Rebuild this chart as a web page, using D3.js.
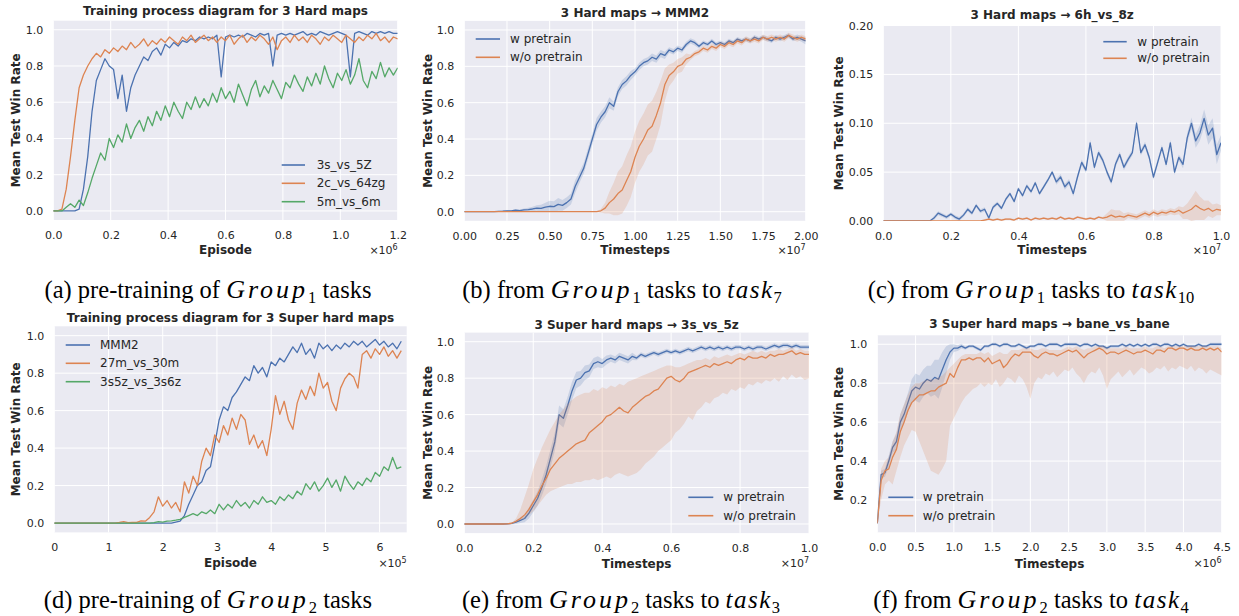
<!DOCTYPE html>
<html>
<head>
<meta charset="utf-8">
<script src="https://cdn.jsdelivr.net/npm/d3@7"></script>
<style>
  body { margin: 0; background: #fff; }
  svg { display: block; font-family: "DejaVu Sans", sans-serif; }
  .tick text { font-size: 11px; fill: #262626; font-family: "DejaVu Sans", sans-serif; }
  .title { font-size: 12px; font-weight: bold; fill: #262626; }
  .axis-label { font-size: 12px; font-weight: bold; fill: #262626; }
  .expo { font-size: 11px; fill: #262626; }
  .legend text { font-size: 12px; fill: #262626; }
  .caption { font-family: "Liberation Serif", "Times New Roman", serif; font-size: 24.5px; fill: #000; }
</style>
</head>
<body>
<svg id="fig" width="1239" height="616"></svg>
<script>
// 1: DATA

// (a) pre-training, Group1 – episode step 0.015 (x1e6)
const stepA = 0.015;
const a3s5z = [0,0,0,0,0,0,0.01,0.12,0.3,0.55,0.72,0.78,0.84,0.8,0.78,0.62,0.75,0.55,0.68,0.75,0.8,0.85,0.83,0.88,0.9,0.86,0.92,0.9,0.93,0.91,0.94,0.93,0.95,0.94,0.96,0.95,0.96,0.95,0.97,0.74,0.96,0.97,0.96,0.97,0.96,0.98,0.97,0.96,0.98,0.97,0.98,0.8,0.97,0.98,0.97,0.98,0.97,0.98,0.99,0.97,0.98,0.97,0.99,0.98,0.97,0.98,0.99,0.98,0.97,0.74,0.98,0.99,0.98,0.97,0.99,0.98,0.99,0.98,0.99,0.98,0.98];
const a2c64zg = [0,0,0.01,0.12,0.3,0.5,0.68,0.75,0.8,0.84,0.87,0.85,0.89,0.87,0.9,0.88,0.91,0.89,0.93,0.9,0.92,0.95,0.91,0.94,0.92,0.95,0.93,0.96,0.94,0.92,0.96,0.94,0.97,0.93,0.95,0.97,0.94,0.96,0.93,0.96,0.94,0.97,0.92,0.95,0.97,0.93,0.96,0.94,0.97,0.95,0.92,0.96,0.89,0.94,0.96,0.93,0.97,0.94,0.96,0.93,0.97,0.95,0.92,0.96,0.94,0.97,0.95,0.93,0.97,0.95,0.93,0.96,0.94,0.97,0.95,0.98,0.94,0.96,0.93,0.96,0.95];
const a5m6m = [0,0,0,0.02,0.04,0.02,0.06,0.03,0.1,0.18,0.25,0.32,0.28,0.4,0.35,0.42,0.38,0.48,0.4,0.46,0.5,0.44,0.52,0.47,0.55,0.5,0.58,0.52,0.6,0.55,0.51,0.6,0.56,0.63,0.57,0.62,0.58,0.65,0.6,0.68,0.62,0.66,0.6,0.7,0.64,0.58,0.67,0.72,0.63,0.69,0.65,0.72,0.67,0.62,0.71,0.68,0.75,0.7,0.66,0.74,0.69,0.76,0.7,0.8,0.73,0.68,0.76,0.72,0.78,0.7,0.75,0.84,0.72,0.68,0.77,0.73,0.82,0.74,0.79,0.75,0.79];

// (b) Group1 -> MMM2 – timestep step 0.025 (x1e7)
const stepB = 0.025;
const bWithMean = [0,0,0,0,0,0,0,0,0.002,0.003,0.005,0.004,0.008,0.006,0.01,0.012,0.015,0.02,0.018,0.025,0.03,0.028,0.04,0.035,0.05,0.07,0.14,0.19,0.24,0.32,0.4,0.48,0.52,0.55,0.6,0.58,0.66,0.7,0.72,0.75,0.77,0.8,0.82,0.83,0.85,0.84,0.87,0.86,0.89,0.88,0.9,0.89,0.92,0.94,0.93,0.91,0.93,0.92,0.94,0.92,0.93,0.92,0.94,0.93,0.95,0.94,0.95,0.94,0.96,0.95,0.96,0.95,0.94,0.96,0.95,0.96,0.97,0.95,0.96,0.95,0.94];
const bWithSpread = [0,0,0,0,0,0,0,0,0.003,0.003,0.004,0.004,0.005,0.006,0.008,0.01,0.012,0.015,0.02,0.025,0.03,0.03,0.035,0.03,0.03,0.03,0.035,0.03,0.03,0.03,0.03,0.035,0.03,0.03,0.03,0.025,0.025,0.025,0.025,0.025,0.02,0.02,0.02,0.02,0.02,0.02,0.02,0.02,0.015,0.015,0.015,0.015,0.015,0.015,0.015,0.012,0.012,0.012,0.012,0.012,0.012,0.012,0.012,0.012,0.012,0.012,0.012,0.012,0.012,0.012,0.012,0.012,0.012,0.012,0.012,0.012,0.012,0.012,0.015,0.015,0.02];
const bWithoutMean = [0,0,0,0,0,0,0,0,0,0,0,0,0,0,0,0,0,0,0,0,0,0,0,0,0,0,0,0,0,0,0,0,0.005,0.02,0.05,0.07,0.1,0.12,0.17,0.22,0.3,0.36,0.4,0.45,0.47,0.53,0.6,0.7,0.75,0.77,0.8,0.81,0.84,0.85,0.87,0.88,0.9,0.89,0.91,0.9,0.92,0.91,0.93,0.92,0.94,0.93,0.95,0.94,0.95,0.94,0.96,0.95,0.96,0.95,0.96,0.95,0.97,0.96,0.95,0.96,0.95];
const bWithoutSpread = [0,0,0,0,0,0,0,0,0,0,0,0,0,0,0,0,0,0,0,0,0,0,0,0,0,0,0,0,0,0,0,0,0.01,0.03,0.06,0.09,0.12,0.13,0.14,0.14,0.14,0.14,0.14,0.14,0.14,0.13,0.12,0.09,0.06,0.05,0.04,0.04,0.03,0.015,0.015,0.015,0.015,0.015,0.015,0.015,0.015,0.015,0.015,0.015,0.015,0.015,0.015,0.015,0.015,0.015,0.015,0.015,0.015,0.015,0.015,0.015,0.015,0.015,0.015,0.015,0.015];

// (c) Group1 -> 6h_vs_8z – timestep step 0.0125 (x1e7)
const stepC = 0.0125;
const cWithMean = [0,0,0,0,0,0,0,0,0,0,0,0,0.003,0.008,0.006,0.004,0.007,0.004,0.002,0.006,0.012,0.008,0.016,0.01,0.012,0.003,0.014,0.018,0.013,0.022,0.028,0.02,0.033,0.026,0.036,0.03,0.039,0.028,0.035,0.042,0.05,0.04,0.045,0.035,0.04,0.028,0.045,0.06,0.052,0.08,0.055,0.07,0.062,0.05,0.04,0.058,0.068,0.055,0.063,0.07,0.1,0.07,0.078,0.065,0.045,0.06,0.075,0.058,0.08,0.05,0.065,0.058,0.085,0.1,0.082,0.09,0.105,0.088,0.095,0.068,0.08];
const cWithSpread = [0,0,0,0,0,0,0,0,0,0,0,0,0.002,0.002,0.002,0.002,0.002,0.002,0.002,0.002,0.002,0.002,0.002,0.002,0.002,0.002,0.002,0.002,0.002,0.002,0.002,0.002,0.002,0.002,0.002,0.002,0.002,0.002,0.002,0.002,0.002,0.003,0.003,0.003,0.003,0.003,0.003,0.003,0.003,0.003,0.003,0.003,0.003,0.003,0.003,0.003,0.003,0.003,0.003,0.003,0.003,0.003,0.003,0.003,0.003,0.003,0.003,0.003,0.003,0.003,0.003,0.004,0.005,0.006,0.007,0.008,0.009,0.01,0.01,0.01,0.008];
const cWithoutMean = [0,0,0,0,0,0,0,0,0,0,0,0,0,0,0,0,0,0,0,0,0,0,0,0,0.001,0.002,0.001,0.002,0.001,0.002,0.002,0.001,0.003,0.002,0.003,0.001,0.003,0.002,0.003,0.002,0.003,0.002,0.004,0.002,0.003,0.002,0.004,0.003,0.002,0.003,0.002,0.004,0.003,0.004,0.006,0.004,0.005,0.004,0.006,0.005,0.004,0.006,0.008,0.006,0.009,0.007,0.009,0.008,0.01,0.009,0.011,0.008,0.01,0.012,0.016,0.013,0.011,0.013,0.01,0.012,0.011];
const cWithoutSpread = [0,0,0,0,0,0,0,0,0,0,0,0,0,0,0,0,0,0,0,0,0,0,0,0,0.001,0.001,0.001,0.001,0.001,0.001,0.001,0.001,0.001,0.001,0.001,0.001,0.001,0.001,0.001,0.001,0.001,0.001,0.001,0.001,0.001,0.001,0.001,0.001,0.001,0.001,0.001,0.001,0.001,0.004,0.006,0.007,0.006,0.004,0.003,0.003,0.003,0.003,0.003,0.003,0.003,0.003,0.003,0.003,0.003,0.003,0.004,0.006,0.008,0.012,0.015,0.012,0.01,0.008,0.007,0.006,0.005];

// (d) pre-training, Group2 – episode step 0.08 (x1e5)
const stepD = 0.08;
const dMMM2 = [0,0,0,0,0,0,0,0,0,0,0,0,0,0,0,0,0,0,0,0,0,0,0,0,0,0,0,0,0.005,0.01,0.04,0.1,0.15,0.2,0.22,0.28,0.3,0.42,0.55,0.62,0.6,0.67,0.7,0.74,0.78,0.76,0.84,0.8,0.83,0.78,0.86,0.84,0.88,0.86,0.9,0.94,0.91,0.96,0.9,0.93,0.88,0.96,0.93,0.95,0.92,0.95,0.93,0.96,0.94,0.97,0.95,0.97,0.94,0.96,0.98,0.95,0.97,0.94,0.96,0.93,0.97];
const d27m30m = [0,0,0,0,0,0,0,0,0,0,0,0,0,0,0,0.003,0.008,0.002,0.004,0.003,0.012,0.01,0.03,0.06,0.14,0.09,0.12,0.08,0.11,0.06,0.22,0.16,0.25,0.2,0.33,0.4,0.36,0.47,0.43,0.52,0.47,0.56,0.5,0.58,0.55,0.42,0.47,0.4,0.44,0.36,0.5,0.68,0.58,0.65,0.55,0.5,0.64,0.71,0.66,0.73,0.68,0.8,0.72,0.75,0.65,0.6,0.72,0.77,0.8,0.78,0.72,0.9,0.92,0.88,0.93,0.9,0.94,0.89,0.92,0.88,0.92];
const d3s5z3s6z = [0,0,0,0,0,0,0,0,0,0,0,0,0,0,0,0,0,0,0,0,0,0,0,0.002,0.008,0.005,0.01,0.012,0.015,0.02,0.03,0.04,0.05,0.04,0.06,0.05,0.07,0.05,0.1,0.07,0.1,0.08,0.12,0.09,0.11,0.08,0.12,0.1,0.14,0.11,0.12,0.1,0.14,0.12,0.15,0.13,0.17,0.15,0.21,0.18,0.22,0.17,0.2,0.24,0.19,0.23,0.17,0.25,0.21,0.18,0.22,0.2,0.24,0.22,0.27,0.25,0.3,0.28,0.35,0.29,0.3];

// (e) Group2 -> 3s_vs_5z – timestep step 0.0125 (x1e7)
const stepE = 0.0125;
const eWithMean = [0,0,0,0,0,0,0,0,0,0,0.001,0.003,0.01,0.02,0.03,0.06,0.1,0.14,0.2,0.27,0.36,0.45,0.6,0.58,0.65,0.73,0.79,0.8,0.83,0.84,0.88,0.89,0.88,0.9,0.91,0.9,0.92,0.91,0.9,0.92,0.91,0.93,0.92,0.93,0.94,0.93,0.94,0.95,0.94,0.95,0.94,0.95,0.96,0.95,0.96,0.97,0.96,0.97,0.96,0.97,0.96,0.97,0.96,0.97,0.97,0.96,0.97,0.96,0.97,0.97,0.96,0.97,0.98,0.97,0.98,0.98,0.97,0.98,0.97,0.97,0.97];
const eWithSpread = [0,0,0,0,0,0,0,0,0,0,0.002,0.004,0.01,0.015,0.02,0.03,0.035,0.04,0.045,0.05,0.05,0.05,0.05,0.05,0.05,0.05,0.045,0.04,0.04,0.035,0.03,0.03,0.025,0.025,0.02,0.02,0.02,0.02,0.02,0.02,0.012,0.012,0.012,0.012,0.012,0.012,0.012,0.012,0.012,0.012,0.012,0.012,0.012,0.012,0.012,0.012,0.012,0.012,0.012,0.012,0.012,0.012,0.012,0.012,0.012,0.012,0.012,0.012,0.012,0.012,0.012,0.012,0.012,0.012,0.012,0.012,0.012,0.012,0.012,0.012,0.012];
const eWithoutMean = [0,0,0,0,0,0,0,0,0,0,0.001,0.004,0.015,0.03,0.05,0.08,0.12,0.16,0.21,0.25,0.3,0.33,0.36,0.38,0.4,0.42,0.44,0.45,0.46,0.5,0.52,0.54,0.56,0.59,0.6,0.62,0.64,0.62,0.61,0.64,0.66,0.68,0.7,0.71,0.73,0.74,0.77,0.8,0.81,0.79,0.78,0.8,0.83,0.84,0.85,0.86,0.87,0.86,0.88,0.87,0.88,0.89,0.88,0.9,0.91,0.9,0.92,0.91,0.91,0.92,0.91,0.93,0.92,0.93,0.93,0.94,0.95,0.93,0.94,0.93,0.93];
const eWithoutLow = [0,0,0,0,0,0,0,0,0,0,0.001,0.003,0.008,0.02,0.03,0.05,0.07,0.1,0.13,0.16,0.18,0.19,0.2,0.21,0.22,0.22,0.23,0.23,0.24,0.24,0.25,0.24,0.25,0.26,0.25,0.27,0.28,0.27,0.26,0.27,0.28,0.3,0.33,0.35,0.37,0.4,0.42,0.44,0.46,0.5,0.52,0.55,0.59,0.57,0.62,0.64,0.67,0.66,0.69,0.7,0.72,0.71,0.74,0.73,0.75,0.74,0.77,0.76,0.78,0.77,0.79,0.78,0.8,0.78,0.81,0.79,0.82,0.8,0.81,0.79,0.8];
const eWithoutHigh = [0,0,0,0,0,0,0,0,0,0,0.002,0.006,0.03,0.08,0.15,0.22,0.3,0.36,0.42,0.47,0.52,0.56,0.6,0.63,0.66,0.68,0.7,0.71,0.72,0.72,0.74,0.73,0.75,0.74,0.76,0.75,0.77,0.76,0.78,0.79,0.8,0.81,0.82,0.83,0.84,0.85,0.86,0.87,0.87,0.86,0.86,0.87,0.88,0.89,0.9,0.9,0.91,0.9,0.92,0.91,0.92,0.93,0.92,0.93,0.94,0.93,0.94,0.95,0.94,0.95,0.94,0.95,0.95,0.96,0.95,0.96,0.97,0.95,0.96,0.95,0.95];

// (f) Group2 -> bane_vs_bane – timestep step 0.05 (x1e6)
const stepF = 0.05;
const fWithMean = [0.08,0.33,0.34,0.4,0.47,0.5,0.6,0.64,0.7,0.76,0.78,0.77,0.8,0.82,0.81,0.83,0.82,0.87,0.92,0.96,0.98,0.98,0.99,0.98,0.99,0.99,0.98,0.97,0.99,0.99,1.0,1.0,0.99,1.0,1.0,0.99,0.99,1.0,0.99,0.98,0.99,0.99,1.0,1.0,0.99,1.0,1.0,1.0,0.99,1.0,1.0,1.0,1.0,0.99,1.0,1.0,0.99,1.0,0.99,0.99,0.98,0.99,0.99,0.99,1.0,0.99,1.0,0.99,1.0,0.99,1.0,0.99,1.0,1.0,0.99,1.0,1.0,0.99,1.0,0.99,1.0,0.99,0.99,0.99,1.0,0.99,0.99,1.0,1.0,1.0,1.0];
const fWithSpread = [0.01,0.02,0.02,0.03,0.03,0.04,0.04,0.05,0.05,0.06,0.07,0.07,0.07,0.07,0.08,0.09,0.1,0.09,0.07,0.04,0.02,0.015,0.012,0.008,0.008,0.008,0.008,0.008,0.008,0.008,0.008,0.008,0.008,0.008,0.008,0.008,0.008,0.008,0.008,0.008,0.008,0.008,0.008,0.008,0.008,0.008,0.008,0.008,0.008,0.008,0.008,0.008,0.008,0.008,0.008,0.008,0.008,0.008,0.008,0.008,0.008,0.008,0.008,0.008,0.008,0.008,0.008,0.008,0.008,0.008,0.008,0.008,0.008,0.008,0.008,0.008,0.008,0.008,0.008,0.008,0.008,0.008,0.008,0.008,0.008,0.008,0.008,0.008,0.008,0.008,0.008];
const fWithoutMean = [0.08,0.3,0.35,0.36,0.42,0.46,0.55,0.6,0.66,0.7,0.72,0.74,0.74,0.75,0.76,0.76,0.78,0.79,0.8,0.85,0.83,0.88,0.92,0.92,0.93,0.92,0.93,0.93,0.91,0.93,0.9,0.91,0.92,0.88,0.9,0.93,0.95,0.94,0.96,0.96,0.96,0.94,0.93,0.95,0.96,0.95,0.95,0.94,0.95,0.96,0.97,0.96,0.97,0.95,0.93,0.95,0.96,0.97,0.98,0.97,0.95,0.96,0.96,0.95,0.96,0.97,0.96,0.95,0.96,0.96,0.97,0.96,0.95,0.97,0.97,0.96,0.98,0.98,0.97,0.98,0.98,0.97,0.98,0.97,0.97,0.98,0.97,0.98,0.97,0.98,0.96];
const fWithoutLow = [0.08,0.2,0.28,0.3,0.28,0.35,0.42,0.48,0.52,0.56,0.55,0.5,0.45,0.4,0.35,0.34,0.33,0.36,0.4,0.58,0.62,0.66,0.7,0.73,0.75,0.77,0.78,0.8,0.78,0.8,0.79,0.82,0.78,0.8,0.83,0.82,0.8,0.84,0.82,0.78,0.72,0.8,0.83,0.82,0.85,0.84,0.86,0.83,0.85,0.87,0.86,0.88,0.85,0.83,0.8,0.84,0.86,0.85,0.88,0.84,0.77,0.82,0.84,0.86,0.83,0.85,0.87,0.84,0.86,0.88,0.87,0.85,0.86,0.88,0.87,0.89,0.86,0.88,0.87,0.89,0.88,0.87,0.89,0.86,0.88,0.87,0.85,0.87,0.86,0.85,0.84];
const fWithoutHigh = [0.08,0.36,0.4,0.42,0.5,0.55,0.64,0.69,0.74,0.78,0.8,0.8,0.81,0.82,0.82,0.82,0.83,0.84,0.86,0.88,0.9,0.92,0.94,0.95,0.95,0.95,0.95,0.96,0.95,0.96,0.94,0.95,0.96,0.95,0.95,0.97,0.97,0.97,0.98,0.98,0.98,0.97,0.97,0.98,0.98,0.97,0.97,0.97,0.97,0.98,0.99,0.98,0.99,0.98,0.97,0.98,0.98,0.99,0.99,0.99,0.98,0.98,0.98,0.98,0.98,0.99,0.98,0.98,0.98,0.98,0.99,0.98,0.98,0.99,0.99,0.98,0.99,0.99,0.99,0.99,0.99,0.99,0.99,0.99,0.99,0.99,0.99,0.99,0.99,0.99,0.98];

// tick values
const winTicks = [0, 0.2, 0.4, 0.6, 0.8, 1.0];
const winTicksC = [0, 0.05, 0.1, 0.15, 0.2];
const winTicksF = [0.2, 0.4, 0.6, 0.8, 1.0];
const ticksA = [0, 0.2, 0.4, 0.6, 0.8, 1.0, 1.2];
const ticksB = [0, 0.25, 0.5, 0.75, 1.0, 1.25, 1.5, 1.75, 2.0];
const ticksCE = [0, 0.2, 0.4, 0.6, 0.8, 1.0];
const ticksD = [0, 1, 2, 3, 4, 5, 6];
const ticksF = [0, 0.5, 1.0, 1.5, 2.0, 2.5, 3.0, 3.5, 4.0, 4.5];

// legend labels
const mapsG1 = ["3s_vs_5Z", "2c_vs_64zg", "5m_vs_6m"];
const mapsG2 = ["MMM2", "27m_vs_30m", "3s5z_vs_3s6z"];
const pretrainLabels = ["w pretrain", "w/o pretrain"];

// captions: [text, style]
const captionA = [["(a) pre-training of ", ""], ["Group", "it"], ["1", "sub"], [" tasks", ""]];
const captionB = [["(b) from ", ""], ["Group", "it"], ["1", "sub"], [" tasks to ", ""], ["task", "it2"], ["7", "sub"]];
const captionC = [["(c) from ", ""], ["Group", "it"], ["1", "sub"], [" tasks to ", ""], ["task", "it2"], ["10", "sub"]];
const captionD = [["(d) pre-training of ", ""], ["Group", "it"], ["2", "sub"], [" tasks", ""]];
const captionE = [["(e) from ", ""], ["Group", "it"], ["2", "sub"], [" tasks to ", ""], ["task", "it2"], ["3", "sub"]];
const captionF = [["(f) from ", ""], ["Group", "it"], ["2", "sub"], [" tasks to ", ""], ["task", "it2"], ["4", "sub"]];

// 2: STYLE
const BLUE = "#4C72B0", ORANGE = "#DD8452", GREEN = "#55A868";
const svg = d3.select("#fig");

// 3: PANEL DRAWER
function drawPanel(p) {
  const g = svg.append("g");
  const x = d3.scaleLinear().domain(p.xDomain).range([p.left, p.right]);
  const y = d3.scaleLinear().domain(p.yDomain).range([p.bottom, p.top]);

  g.append("rect")
    .attr("x", p.left).attr("y", p.top)
    .attr("width", p.right - p.left).attr("height", p.bottom - p.top)
    .attr("fill", "#EAEAF2");

  // white grid
  g.append("g").selectAll("line").data(p.xTicks).join("line")
    .attr("x1", d => x(d)).attr("x2", d => x(d))
    .attr("y1", p.top).attr("y2", p.bottom)
    .attr("stroke", "#fff").attr("stroke-width", 1);
  g.append("g").selectAll("line").data(p.yTicks).join("line")
    .attr("x1", p.left).attr("x2", p.right)
    .attr("y1", d => y(d)).attr("y2", d => y(d))
    .attr("stroke", "#fff").attr("stroke-width", 1);

  const clipId = "clip-" + p.id;
  g.append("clipPath").attr("id", clipId).append("rect")
    .attr("x", p.left).attr("y", p.top)
    .attr("width", p.right - p.left).attr("height", p.bottom - p.top);
  const plot = g.append("g").attr("clip-path", `url(#${clipId})`);

  p.series.forEach(s => {
    const pts = s.mean.map((v, i) => ({
      x: i * p.step,
      m: v,
      lo: s.low ? s.low[i] : (s.spread ? v - s.spread[i] : v),
      hi: s.high ? s.high[i] : (s.spread ? v + s.spread[i] : v)
    }));
    if (s.spread || s.low) {
      plot.append("path").datum(pts)
        .attr("fill", s.color).attr("fill-opacity", 0.2)
        .attr("d", d3.area().x(d => x(d.x)).y0(d => y(d.lo)).y1(d => y(d.hi)));
    }
    plot.append("path").datum(pts)
      .attr("fill", "none").attr("stroke", s.color).attr("stroke-width", 1.3)
      .attr("stroke-linejoin", "round")
      .attr("d", d3.line().x(d => x(d.x)).y(d => y(d.m)));
  });

  // axes
  const xa = g.append("g").attr("transform", `translate(0,${p.bottom})`)
    .call(d3.axisBottom(x).tickValues(p.xTicks).tickFormat(d3.format(p.xFmt)).tickSize(0).tickPadding(11));
  xa.select(".domain").remove();
  const ya = g.append("g").attr("transform", `translate(${p.left},0)`)
    .call(d3.axisLeft(y).tickValues(p.yTicks).tickFormat(d3.format(p.yFmt)).tickSize(0).tickPadding(10));
  ya.select(".domain").remove();

  // labels
  const cx = (p.left + p.right) / 2;
  g.append("text").attr("class", "title").attr("x", cx).attr("y", p.titleY)
    .attr("text-anchor", "middle").text(p.title);
  g.append("text").attr("class", "axis-label").attr("x", cx).attr("y", p.xLabelY)
    .attr("text-anchor", "middle").text(p.xLabel);
  g.append("text").attr("class", "axis-label")
    .attr("transform", `translate(${p.yLabelX},${(p.top + p.bottom) / 2}) rotate(-90)`)
    .attr("text-anchor", "middle").text("Mean Test Win Rate");
  const ex = g.append("text").attr("class", "expo").attr("x", p.right).attr("y", p.expoY)
    .attr("text-anchor", "end");
  ex.append("tspan").text("\u00d710");
  ex.append("tspan").attr("dy", -4).attr("font-size", "8px").text(p.expo);

  // legend
  const lg = g.append("g").attr("class", "legend");
  p.series.forEach((s, i) => {
    const ly = p.legend.y[i];
    lg.append("line").attr("x1", p.legend.x1).attr("x2", p.legend.x2)
      .attr("y1", ly).attr("y2", ly).attr("stroke", s.color).attr("stroke-width", 1.6);
    lg.append("text").attr("x", p.legend.tx).attr("y", ly + 4).text(s.label);
  });

  // caption (math parts in italic, a bit wider like LaTeX math)
  const cap = g.append("text").attr("class", "caption").attr("x", p.capX).attr("y", p.capY)
    .attr("text-anchor", "middle");
  let shifted = false;
  p.caption.forEach(([t, st]) => {
    const ts = cap.append("tspan").text(t);
    if (st === "it") ts.attr("font-style", "italic").attr("font-size", "26px").attr("letter-spacing", "3px");
    if (st === "it2") ts.attr("font-style", "italic").attr("font-size", "25px").attr("letter-spacing", "1.5px");
    if (st === "sub") { ts.attr("font-size", "16.5px").attr("dy", 4.5); shifted = true; }
    else if (shifted) { ts.attr("dy", -4.5); shifted = false; }
  });
}

// 4: PANELS
drawPanel({
  id: "a", left: 53.3, right: 397.7, top: 20.7, bottom: 220,
  xDomain: [0, 1.2], yDomain: [-0.05, 1.05], step: stepA,
  xTicks: ticksA, xFmt: ".1f", yTicks: winTicks, yFmt: ".1f",
  title: "Training process diagram for 3 Hard maps", titleY: 14.5,
  xLabel: "Episode", xLabelY: 254, yLabelX: 19.5, expo: "6", expoY: 254,
  series: [
    { mean: a3s5z, color: BLUE, label: mapsG1[0] },
    { mean: a2c64zg, color: ORANGE, label: mapsG1[1] },
    { mean: a5m6m, color: GREEN, label: mapsG1[2] }
  ],
  legend: { x1: 281.7, x2: 305, tx: 316.7, y: [165, 183.3, 201.7] },
  caption: captionA, capX: 208, capY: 298
});

drawPanel({
  id: "b", left: 464.3, right: 805.7, top: 20.9, bottom: 220.8,
  xDomain: [0, 2.0], yDomain: [-0.05, 1.05], step: stepB,
  xTicks: ticksB, xFmt: ".2f", yTicks: winTicks, yFmt: ".1f",
  title: "3 Hard maps \u2192 MMM2", titleY: 17,
  xLabel: "Timesteps", xLabelY: 254, yLabelX: 431.5, expo: "7", expoY: 254,
  series: [
    { mean: bWithMean, spread: bWithSpread, color: BLUE, label: pretrainLabels[0] },
    { mean: bWithoutMean, spread: bWithoutSpread, color: ORANGE, label: pretrainLabels[1] }
  ],
  legend: { x1: 475.7, x2: 500, tx: 510, y: [39, 57.3] },
  caption: captionB, capX: 622, capY: 298
});

drawPanel({
  id: "c", left: 883.3, right: 1221, top: 25.5, bottom: 221,
  xDomain: [0, 1.0], yDomain: [0, 0.2], step: stepC,
  xTicks: ticksCE, xFmt: ".1f", yTicks: winTicksC, yFmt: ".2f",
  title: "3 Hard maps \u2192 6h_vs_8z", titleY: 19,
  xLabel: "Timesteps", xLabelY: 254, yLabelX: 843, expo: "7", expoY: 254,
  series: [
    { mean: cWithMean, spread: cWithSpread, color: BLUE, label: pretrainLabels[0] },
    { mean: cWithoutMean, spread: cWithoutSpread, color: ORANGE, label: pretrainLabels[1] }
  ],
  legend: { x1: 1103.3, x2: 1126.7, tx: 1137.3, y: [41.7, 58.3] },
  caption: captionC, capX: 1031, capY: 298
});

drawPanel({
  id: "d", left: 54.3, right: 406.7, top: 326.3, bottom: 532.4,
  xDomain: [0, 6.5], yDomain: [-0.05, 1.05], step: stepD,
  xTicks: ticksD, xFmt: "d", yTicks: winTicks, yFmt: ".1f",
  title: "Training process diagram for 3 Super hard maps", titleY: 321.5,
  xLabel: "Episode", xLabelY: 567, yLabelX: 20, expo: "5", expoY: 566.5,
  series: [
    { mean: dMMM2, color: BLUE, label: mapsG2[0] },
    { mean: d27m30m, color: ORANGE, label: mapsG2[1] },
    { mean: d3s5z3s6z, color: GREEN, label: mapsG2[2] }
  ],
  legend: { x1: 65.7, x2: 90, tx: 100, y: [345, 363.3, 381.7] },
  caption: captionD, capX: 208, capY: 608
});

drawPanel({
  id: "e", left: 464.3, right: 809, top: 332.6, bottom: 533.1,
  xDomain: [0, 1.0], yDomain: [-0.05, 1.05], step: stepE,
  xTicks: ticksCE, xFmt: ".1f", yTicks: winTicks, yFmt: ".1f",
  title: "3 Super hard maps \u2192 3s_vs_5z", titleY: 329,
  xLabel: "Timesteps", xLabelY: 567.5, yLabelX: 432, expo: "7", expoY: 567,
  series: [
    { mean: eWithMean, spread: eWithSpread, color: BLUE, label: pretrainLabels[0] },
    { mean: eWithoutMean, low: eWithoutLow, high: eWithoutHigh, color: ORANGE, label: pretrainLabels[1] }
  ],
  legend: { x1: 688.3, x2: 713.3, tx: 723.3, y: [497.3, 515.7] },
  caption: captionE, capX: 621, capY: 608
});

drawPanel({
  id: "f", left: 877.3, right: 1221.7, top: 335.3, bottom: 532.3,
  xDomain: [0, 4.5], yDomain: [0.034, 1.046], step: stepF,
  xTicks: ticksF, xFmt: ".1f", yTicks: winTicksF, yFmt: ".1f",
  title: "3 Super hard maps \u2192 bane_vs_bane", titleY: 328,
  xLabel: "Timesteps", xLabelY: 567.5, yLabelX: 843, expo: "6", expoY: 567,
  series: [
    { mean: fWithMean, spread: fWithSpread, color: BLUE, label: pretrainLabels[0] },
    { mean: fWithoutMean, low: fWithoutLow, high: fWithoutHigh, color: ORANGE, label: pretrainLabels[1] }
  ],
  legend: { x1: 888.3, x2: 913.3, tx: 922.7, y: [497.3, 515.7] },
  caption: captionF, capX: 1031, capY: 608
});
</script>
</body>
</html>
